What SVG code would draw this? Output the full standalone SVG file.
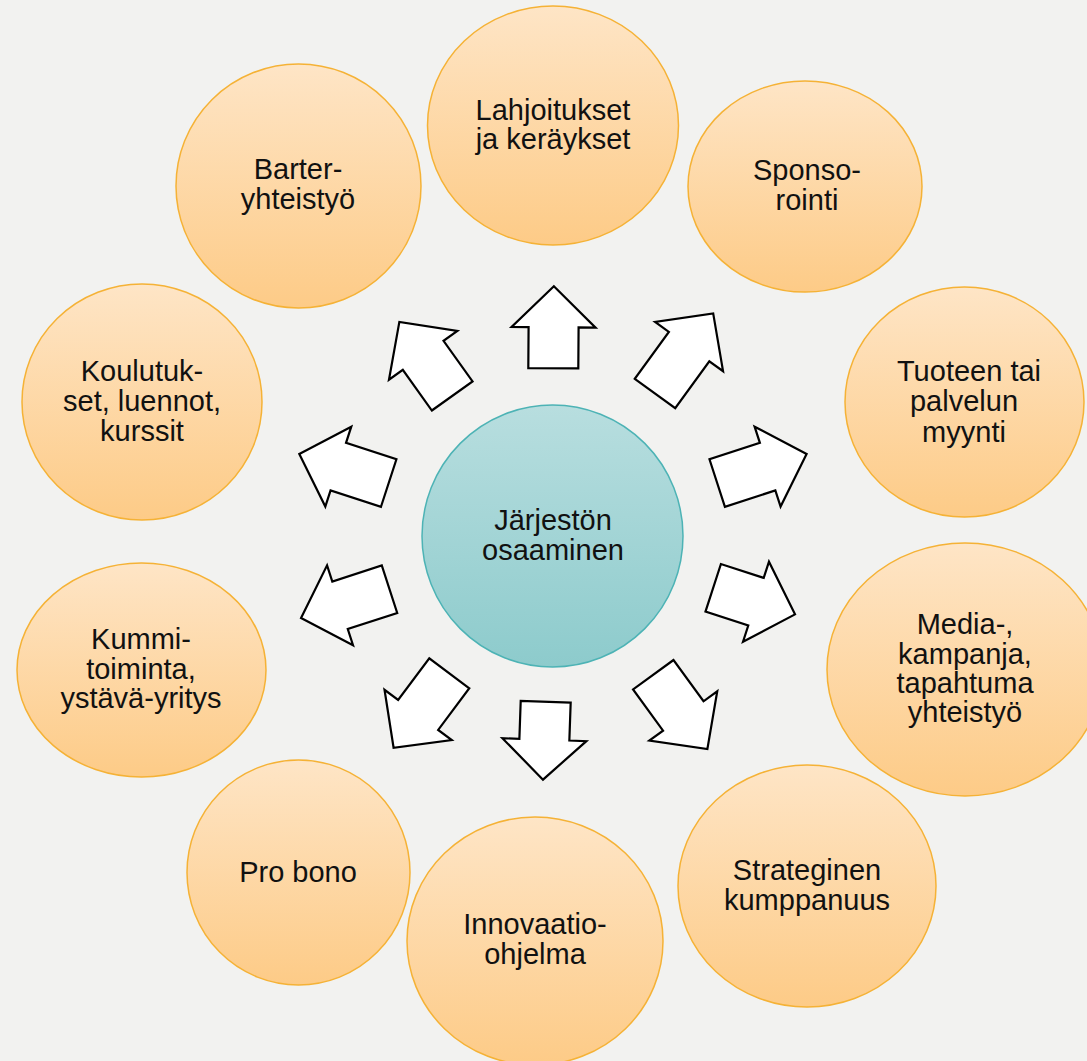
<svg xmlns="http://www.w3.org/2000/svg" width="1087" height="1061" viewBox="0 0 1087 1061">
  <defs>
    <linearGradient id="gOrange" x1="0" y1="0" x2="0" y2="1">
      <stop offset="0" stop-color="#fee5c6"/>
      <stop offset="1" stop-color="#fdcb87"/>
    </linearGradient>
    <linearGradient id="gTeal" x1="0" y1="0" x2="0" y2="1">
      <stop offset="0" stop-color="#b8dedf"/>
      <stop offset="1" stop-color="#8dcbcc"/>
    </linearGradient>
  </defs>
  <style>
    .orb { fill: url(#gOrange); stroke: #f5b236; stroke-width: 1.5; }
    .core { fill: url(#gTeal); stroke: #4db3b5; stroke-width: 1.5; }
    .lbl { font-family: "Liberation Sans", Arial, sans-serif; font-size: 29px; fill: #111; text-anchor: middle; }
    .arrow { fill: #ffffff; stroke: #000000; stroke-width: 2.2; stroke-linejoin: miter; }
  </style>

  <rect width="1087" height="1061" fill="#f2f2f0"/>

  <!-- block arrows: origin = middle of the shaft base, pointing up before rotation -->
  <g id="connectors">
    <path class="arrow" transform="translate(553.3,368.3) rotate(0.4)" d="M-25,0 L25,0 L25,-41 L42,-41 L0,-82 L-42,-41 L-25,-41 Z"/>
    <path class="arrow" transform="translate(655,393.5) rotate(36)" d="M-25,0 L25,0 L25,-58 L42,-58 L0,-99 L-42,-58 L-25,-58 Z"/>
    <path class="arrow" transform="translate(717.2,483) rotate(72)" d="M-25,0 L25,0 L25,-53 L42,-53 L0,-94 L-42,-53 L-25,-53 Z"/>
    <path class="arrow" transform="translate(713.2,587.8) rotate(108)" d="M-25,0 L25,0 L25,-45 L42,-45 L0,-86 L-42,-45 L-25,-45 Z"/>
    <path class="arrow" transform="translate(653.3,674.7) rotate(144)" d="M-25,0 L25,0 L25,-51 L42,-51 L0,-92 L-42,-51 L-25,-51 Z"/>
    <path class="arrow" transform="translate(545.7,701.7) rotate(182)" d="M-25,0 L25,0 L25,-38 L42,-38 L0,-78 L-42,-38 L-25,-38 Z"/>
    <path class="arrow" transform="translate(449.3,673.3) rotate(216.8)" d="M-25,0 L25,0 L25,-52 L42,-52 L0,-93 L-42,-52 L-25,-52 Z"/>
    <path class="arrow" transform="translate(389.5,589.2) rotate(252)" d="M-25,0 L25,0 L25,-52 L42,-52 L0,-93 L-42,-52 L-25,-52 Z"/>
    <path class="arrow" transform="translate(388.7,483) rotate(288)" d="M-25,0 L25,0 L25,-53 L42,-53 L0,-94 L-42,-53 L-25,-53 Z"/>
    <path class="arrow" transform="translate(452.2,396) rotate(324.5)" d="M-25,0 L25,0 L25,-50 L42,-50 L0,-91 L-42,-50 L-25,-50 Z"/>
  </g>

  <g id="center">
    <ellipse class="core" cx="552.5" cy="536" rx="130.5" ry="131"/>
    <text class="lbl"><tspan x="553" y="530">Järjestön</tspan><tspan x="553" y="560">osaaminen</tspan></text>
  </g>

  <g id="lahjoitukset">
    <ellipse class="orb" cx="553" cy="125.5" rx="125.5" ry="119.5"/>
    <text class="lbl"><tspan x="553" y="120">Lahjoitukset</tspan><tspan x="553" y="149">ja keräykset</tspan></text>
  </g>

  <g id="sponsorointi">
    <ellipse class="orb" cx="805" cy="186.5" rx="117" ry="105.5"/>
    <text class="lbl"><tspan x="807" y="180">Sponso-</tspan><tspan x="807" y="209.5">rointi</tspan></text>
  </g>

  <g id="myynti">
    <ellipse class="orb" cx="964.5" cy="402" rx="119.5" ry="115"/>
    <text class="lbl"><tspan x="969" y="381">Tuoteen tai</tspan><tspan x="964" y="411">palvelun</tspan><tspan x="964" y="441.5">myynti</tspan></text>
  </g>

  <g id="media">
    <ellipse class="orb" cx="965" cy="669.5" rx="138" ry="126.5"/>
    <text class="lbl"><tspan x="965" y="634">Media-,</tspan><tspan x="965" y="663.5">kampanja,</tspan><tspan x="965" y="692.5">tapahtuma</tspan><tspan x="965" y="721.5">yhteistyö</tspan></text>
  </g>

  <g id="strateginen">
    <ellipse class="orb" cx="807" cy="886" rx="129" ry="121"/>
    <text class="lbl"><tspan x="807" y="880">Strateginen</tspan><tspan x="807" y="910">kumppanuus</tspan></text>
  </g>

  <g id="innovaatio">
    <ellipse class="orb" cx="535" cy="941" rx="128" ry="124"/>
    <text class="lbl"><tspan x="535" y="934">Innovaatio-</tspan><tspan x="535" y="964">ohjelma</tspan></text>
  </g>

  <g id="probono">
    <ellipse class="orb" cx="298.5" cy="872.5" rx="111.5" ry="112.5"/>
    <text class="lbl"><tspan x="298" y="882">Pro bono</tspan></text>
  </g>

  <g id="kummi">
    <ellipse class="orb" cx="141.5" cy="670" rx="124.5" ry="107"/>
    <text class="lbl"><tspan x="141" y="649">Kummi-</tspan><tspan x="141" y="678.5">toiminta,</tspan><tspan x="141" y="708">ystävä-yritys</tspan></text>
  </g>

  <g id="koulutukset">
    <ellipse class="orb" cx="142" cy="402" rx="120" ry="118"/>
    <text class="lbl"><tspan x="142" y="381">Koulutuk-</tspan><tspan x="142" y="411">set, luennot,</tspan><tspan x="142" y="441">kurssit</tspan></text>
  </g>

  <g id="barter">
    <ellipse class="orb" cx="298.5" cy="186" rx="122.5" ry="122"/>
    <text class="lbl"><tspan x="298" y="179">Barter-</tspan><tspan x="298" y="209">yhteistyö</tspan></text>
  </g>
</svg>
